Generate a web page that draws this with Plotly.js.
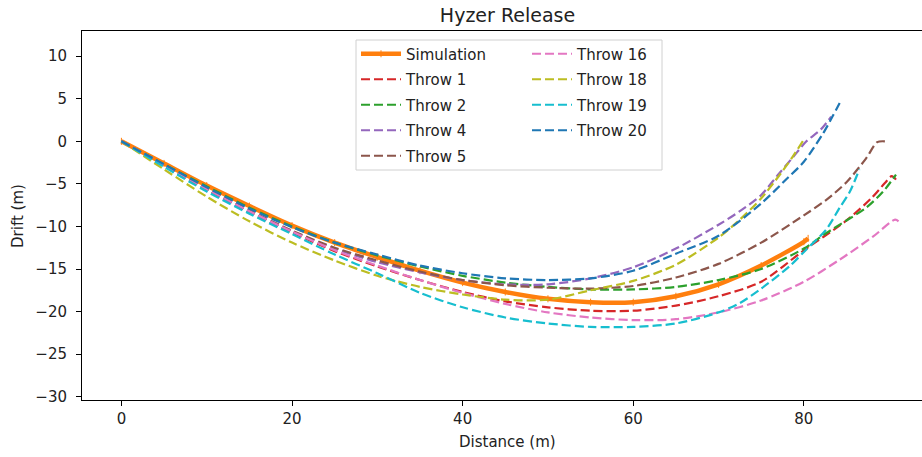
<!DOCTYPE html>
<html>
<head>
<meta charset="utf-8">
<script src="https://cdn.plot.ly/plotly-3.0.1.min.js"></script>
<style>html,body{margin:0;padding:0;background:#fff;}#chart{width:922px;height:457px;}</style>
</head>
<body>
<div id="chart"></div>
<script>
// Simulation
const simX = [0,5,10,15,20,25,30,35,40,45,50,55,60,65,70,75,80,80.5];
const simY = [0,-2.6,-5.2,-7.6,-9.9,-11.9,-13.6,-15.2,-16.6,-17.7,-18.5,-18.9,-18.9,-18.2,-16.8,-14.6,-11.8,-11.4];
// Throw 1
const throw1X = [0,5,10,15,20,25,30,35,40,45,50,55,60,65,70,75,80,85,88,89.5,90.3,90.8];
const throw1Y = [0,-2.8,-5.6,-8.3,-10.7,-12.9,-14.7,-16.3,-17.7,-18.8,-19.5,-19.9,-19.9,-19.3,-18.2,-16.5,-12.8,-9.3,-6.6,-4.9,-4.1,-4.5];
// Throw 2
const throw2X = [0,5,10,15,20,25,30,35,40,45,50,55,60,65,70,75,80,82.6,85,87.3,89.3,90.8];
const throw2Y = [0,-2.7,-5.3,-7.8,-10.0,-11.9,-13.4,-14.7,-15.8,-16.6,-17.1,-17.4,-17.4,-17.1,-16.3,-15.0,-12.6,-10.8,-9.3,-7.8,-5.9,-3.9];
// Throw 4
const throw4X = [0,5,10,15,20,25,30,35,40,45,50,55,60,65,70,72.5,75,77,78.7,80.3,82,83.2];
const throw4Y = [0,-2.9,-5.7,-8.3,-10.6,-12.6,-14.2,-15.4,-16.3,-16.8,-16.8,-16.1,-14.8,-12.6,-9.8,-8.2,-6.3,-3.9,-1.9,0.0,1.4,2.9];
// Throw 5
const throw5X = [0,5,10,15,20,25,30,35,40,45,50,55,60,65,70,75,80,82.6,85,87.3,88.6,89.5];
const throw5Y = [0,-2.8,-5.6,-8.1,-10.5,-12.5,-14.0,-15.3,-16.3,-16.9,-17.2,-17.3,-17.0,-16.0,-14.4,-11.9,-8.7,-6.9,-4.8,-2.0,-0.1,0.0];
// Throw 16
const throw16X = [0,5,10,15,20,25,30,35,40,45,50,55,60,65,70,75,80,84.2,88.1,90.7,91.1];
const throw16Y = [0,-2.8,-5.6,-8.2,-10.6,-12.8,-14.6,-16.3,-17.8,-19.1,-20.1,-20.7,-21.0,-20.9,-20.1,-18.7,-16.5,-13.9,-11.2,-9.2,-9.4];
// Throw 18
const throw18X = [0,5,10,15,20,25,30,35,40,45,50,55,60,65,70,72.5,75,77.2,78.7,80];
const throw18Y = [0,-3.3,-6.5,-9.4,-11.9,-14.0,-15.8,-17.1,-18.0,-18.6,-18.6,-17.5,-16.4,-14.5,-11.3,-9.2,-6.7,-3.9,-1.8,0.2];
// Throw 19
const throw19X = [0,5,10,15,20,25,30,35,40,45,50,55,60,65,70,72.5,75,78.3,80.3,82.6,84.2,85.4,86.5];
const throw19Y = [0,-3.0,-5.9,-8.5,-10.9,-13.3,-15.5,-17.8,-19.5,-20.7,-21.4,-21.8,-21.8,-21.4,-20.1,-19.0,-17.3,-14.7,-12.7,-10.4,-7.8,-5.9,-3.3];
// Throw 20
const throw20X = [0,5,10,15,20,25,30,35,40,45,50,55,60,65,70,75,78,80,82.3,83.4,84.2];
const throw20Y = [0,-2.7,-5.4,-7.9,-10.1,-11.9,-13.3,-14.6,-15.5,-16.1,-16.3,-16.1,-15.2,-13.2,-11.1,-7.3,-4.4,-2.4,1.0,3.0,4.5];

const xTicks = [0,20,40,60,80];
const yTicks = [-30,-25,-20,-15,-10,-5,0,5,10];

const FONT = 'DejaVu Sans, Verdana, sans-serif';
const dash = '9px,4px';

function throwTrace(x, y, name, color, legend, grp) {
  return {x: x, y: y, name: name, type: 'scatter', mode: 'lines',
    line: {color: color, width: 2.2, dash: dash, shape: 'spline', smoothing: 0.8},
    legend: legend, legendgroup: grp};
}

const traces = [
  {x: simX, y: simY, name: 'Simulation', type: 'scatter', mode: 'lines+markers',
   line: {color: '#ff7f0e', width: 4.5, shape: 'spline', smoothing: 0.8},
   marker: {symbol: 'line-ns', size: 5, color: '#ff7f0e', line: {color: '#ff7f0e', width: 1}},
   legend: 'legend', legendgroup: 'g0'},
  throwTrace(throw1X, throw1Y, 'Throw 1', '#d62728', 'legend', 'g1'),
  throwTrace(throw2X, throw2Y, 'Throw 2', '#2ca02c', 'legend', 'g2'),
  throwTrace(throw4X, throw4Y, 'Throw 4', '#9467bd', 'legend', 'g3'),
  throwTrace(throw5X, throw5Y, 'Throw 5', '#8c564b', 'legend', 'g4'),
  throwTrace(throw16X, throw16Y, 'Throw 16', '#e377c2', 'legend2', 'h1'),
  throwTrace(throw18X, throw18Y, 'Throw 18', '#bcbd22', 'legend2', 'h2'),
  throwTrace(throw19X, throw19Y, 'Throw 19', '#17becf', 'legend2', 'h3'),
  throwTrace(throw20X, throw20Y, 'Throw 20', '#1f77b4', 'legend2', 'h4')
];

// plot area in pixels: left 82, right 922, top 31, bottom 400
const L = 82, R = 922, T = 31, B = 400;
const px2x = p => (p - L) / (R - L);
const py2y = p => (B - p) / (B - T);

const legendCommon = {
  xanchor: 'left', yanchor: 'top', bgcolor: 'rgba(0,0,0,0)', borderwidth: 0,
  font: {family: FONT, size: 15, color: '#222'}, traceorder: 'grouped', tracegroupgap: 3,
  itemwidth: 40
};

const layout = {
  width: 922, height: 457,
  margin: {l: L, r: 922 - R, t: T, b: 457 - B, pad: 0},
  paper_bgcolor: '#ffffff', plot_bgcolor: '#ffffff',
  font: {family: FONT, size: 15, color: '#222'},
  title: {text: 'Hyzer Release', x: (507.5 - L) / (R - L), xref: 'paper', xanchor: 'center',
          y: 1 - 15 / 457, yref: 'container', yanchor: 'middle',
          font: {family: FONT, size: 19, color: '#222'}},
  showlegend: true,
  xaxis: {range: [-4.62, 93.85], tickvals: xTicks, ticktext: xTicks.map(String),
          ticks: 'outside', ticklen: 5, tickwidth: 1, tickcolor: '#000',
          showline: true, linecolor: '#000', linewidth: 1, mirror: true,
          showgrid: false, zeroline: false, tickfont: {family: FONT, size: 15, color: '#222'}},
  yaxis: {range: [-30.39, 12.96], tickvals: yTicks,
          ticks: 'outside', ticklen: 5, tickwidth: 1, tickcolor: '#000', ticklabelstandoff: 6,
          showline: true, linecolor: '#000', linewidth: 1, mirror: false,
          showgrid: false, zeroline: false, tickfont: {family: FONT, size: 15, color: '#222'}},
  legend: Object.assign({x: px2x(356), y: py2y(37.5)}, legendCommon),
  legend2: Object.assign({x: px2x(527), y: py2y(37.5)}, legendCommon),
  shapes: [{type: 'rect', xref: 'paper', yref: 'paper',
            x0: px2x(356), x1: px2x(662), y0: py2y(170), y1: py2y(40),
            line: {color: '#d0d0d0', width: 1}, fillcolor: 'rgba(255,255,255,0.8)', layer: 'above'}],
  annotations: [
    {text: 'Distance (m)', xref: 'paper', yref: 'paper', x: px2x(507.5), y: py2y(442),
     xanchor: 'center', yanchor: 'middle', showarrow: false, font: {family: FONT, size: 15, color: '#222'}},
    {text: 'Drift (m)', xref: 'paper', yref: 'paper', x: px2x(18), y: py2y(216),
     xanchor: 'center', yanchor: 'middle', textangle: -90, showarrow: false, font: {family: FONT, size: 15, color: '#222'}}
  ]
};

Plotly.newPlot('chart', traces, layout, {displayModeBar: false, staticPlot: true});
</script>
</body>
</html>
